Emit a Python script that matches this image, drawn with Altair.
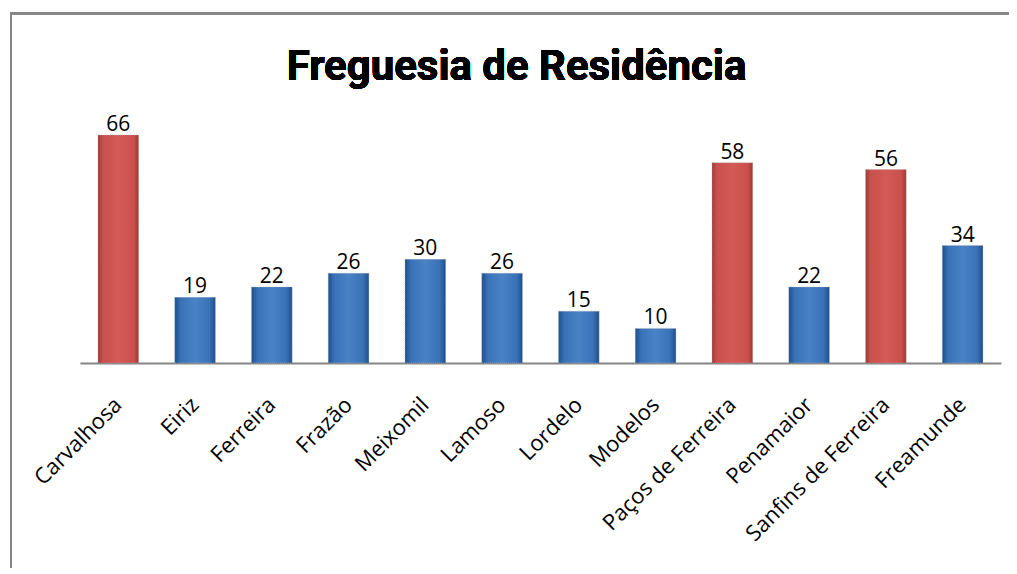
import altair as alt
import pandas as pd

categories = ["Carvalhosa", "Eiriz", "Ferreira", "Frazão", "Meixomil", "Lamoso",
              "Lordelo", "Modelos", "Paços de Ferreira", "Penamaior",
              "Sanfins de Ferreira", "Freamunde"]
values = [66, 19, 22, 26, 30, 26, 15, 10, 58, 22, 56, 34]
highlight = ["red", "blue", "blue", "blue", "blue", "blue", "blue", "blue",
             "red", "blue", "red", "blue"]

df = pd.DataFrame({"cat": categories, "val": values, "grp": highlight})

red_grad = alt.Gradient(gradient="linear", x1=0, x2=1, y1=0, y2=0, stops=[
    alt.GradientStop(color="#9c3a37", offset=0),
    alt.GradientStop(color="#c9504c", offset=0.12),
    alt.GradientStop(color="#d45a56", offset=0.5),
    alt.GradientStop(color="#c9504c", offset=0.88),
    alt.GradientStop(color="#9c3a37", offset=1)])
blue_grad = alt.Gradient(gradient="linear", x1=0, x2=1, y1=0, y2=0, stops=[
    alt.GradientStop(color="#1d4f8c", offset=0),
    alt.GradientStop(color="#3a72b8", offset=0.15),
    alt.GradientStop(color="#4a82c6", offset=0.5),
    alt.GradientStop(color="#3a72b8", offset=0.85),
    alt.GradientStop(color="#1d4f8c", offset=1)])

x = alt.X("cat:N", sort=categories, title=None,
          scale=alt.Scale(paddingInner=0.47, paddingOuter=0.235),
          axis=alt.Axis(labelAngle=-45, labelFont="Open Sans", labelFontSize=22,
                        labelColor="black", ticks=False, domain=True,
                        domainColor="#868686", domainWidth=2, labelPadding=38,
                        labelAlign="right", labelBaseline="middle",
                        labelLimit=400, labelOverlap=False))
y = alt.Y("val:Q", title=None, scale=alt.Scale(domain=[0, 76.1], nice=False),
          axis=None)

base = alt.Chart(df)

red_bars = base.transform_filter(alt.datum.grp == "red").mark_bar(
    fill=red_grad, stroke="#b0b0b0", strokeWidth=0.6, strokeDash=[1, 1]
).encode(x=x, y=y)
blue_bars = base.transform_filter(alt.datum.grp == "blue").mark_bar(
    fill=blue_grad, stroke="#b0b0b0", strokeWidth=0.6, strokeDash=[1, 1]
).encode(x=x, y=y)

labels = base.mark_text(baseline="bottom", dy=0, font="Open Sans",
                        fontSize=21, color="black").encode(
    x=x, y=y, text="val:Q")

title = base.mark_text(font="Roboto", fontWeight="bold",
                       fontSize=42, color="black", baseline="alphabetic",
                       align="center").encode(
    x=alt.value(437), y=alt.value(-20), text=alt.value("Freguesia de Residência"))

top_line = base.mark_rule(stroke="#868686", strokeWidth=2).encode(
    x=alt.value(-70), x2=alt.value(1200), y=alt.value(-87))
left_line = base.mark_rule(stroke="#868686", strokeWidth=2).encode(
    x=alt.value(-69), y=alt.value(-88), y2=alt.value(800))

chart = alt.layer(top_line, left_line, red_bars, blue_bars, labels, title).properties(
    width=922, height=263,
    padding={"left": 72, "top": 92, "right": 8, "bottom": 205},
    autosize=alt.AutoSizeParams(type="none"),
).configure(background="white").configure_view(stroke=None)

chart.save("out.html", embed_options={"renderer": "svg", "actions": False})
